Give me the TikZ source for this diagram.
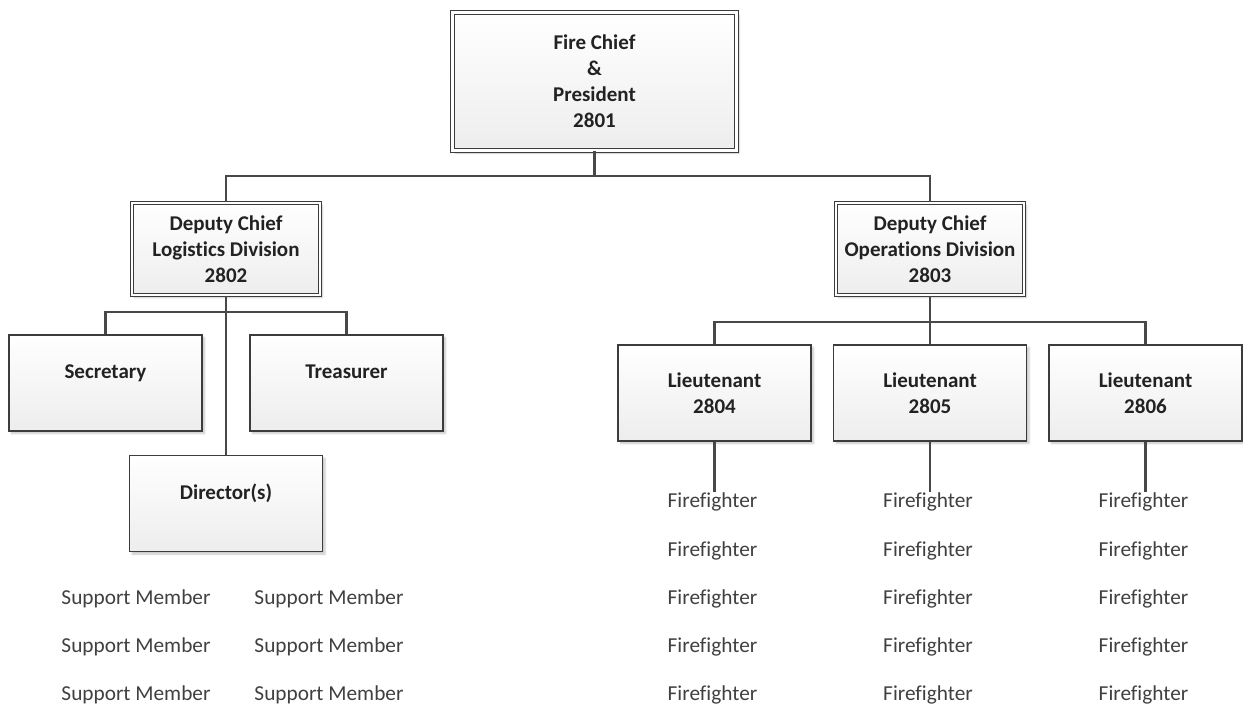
\documentclass[tikz,border=0pt]{standalone}
\usepackage{fontspec}
\setmainfont{Carlito}[Ligatures=NoCommon]
\usetikzlibrary{shadows.blur}
\definecolor{edge}{HTML}{3C3C3C}
\definecolor{wire}{HTML}{484848}
\definecolor{ink}{HTML}{222222}
\definecolor{soft}{HTML}{404040}
\tikzset{
  x=1pt, y=-1pt,
  box/.style={draw=edge, line width=1.4pt, top color=white, bottom color=black!7,
    minimum width=193pt, minimum height=96pt, inner sep=0pt,
    font=\fontsize{21}{26}\selectfont\bfseries, text=ink, align=center,
    blur shadow={shadow xshift=2.5pt, shadow yshift=-2.5pt, shadow opacity=22, shadow blur steps=5}},
  dbox/.style={box, double=white, double distance=2.4pt, line width=1.1pt},
  onebox/.style={box, text height=14pt, text depth=23pt},
  plain/.style={font=\fontsize{21.3}{24}\selectfont, text=soft, inner sep=1pt,
    text height=14pt, text depth=5pt, anchor=base},
  wire/.style={draw=wire, line width=2.2pt}
}
\begin{document}
\begin{tikzpicture}
\useasboundingbox (0,0) rectangle (1243,704);
% boxes
\node[dbox, minimum width=284pt, minimum height=138pt] (chief) at (594.5,81.5) {Fire Chief\\\&\\President\\2801};
\node[dbox, minimum width=188pt, minimum height=92pt] (log) at (226,249) {Deputy Chief\\Logistics Division\\2802};
\node[dbox, minimum width=188pt, minimum height=92pt] (ops) at (930,249) {Deputy Chief\\Operations Division\\2803};
\node[onebox] (sec) at (105.5,383) {Secretary};
\node[onebox] (tre) at (346.5,383) {Treasurer};
\node[onebox] (dir) at (226,503.5) {Director(s)};
\node[box] (lt1) at (714.5,393) {Lieutenant\\2804};
\node[box] (lt2) at (930,393) {Lieutenant\\2805};
\node[box] (lt3) at (1145.5,393) {Lieutenant\\2806};
% bus coordinates
\coordinate (bus1) at (594.5,176);
\coordinate (bus2) at (226,312);
\coordinate (bus3) at (930,322);
% firefighters
\foreach \c/\x in {1/714.5,2/930,3/1145.5}{
  \foreach \r/\y in {1/507,2/556,3/604,4/652,5/700}{
    \node[plain] (ff\c\r) at (\x-2,\y) {Firefighter};
  }
}
% support members
\foreach \c/\x in {1/136,2/329}{
  \foreach \r/\y in {1/604,2/652,3/700}{
    \node[plain] (sm\c\r) at (\x,\y) {Support Member};
  }
}
% connectors
\draw[wire] (chief.south) -- (bus1);
\draw[wire] (log.north) |- (bus1) -| (ops.north);
\draw[wire] (log.south) -- (dir.north);
\draw[wire] (sec.north) |- (bus2) -| (tre.north);
\draw[wire] (ops.south) -- (lt2.north);
\draw[wire] (lt1.north) |- (bus3) -| (lt3.north);
\draw[wire] (lt1.south) -- (lt1.south |- ff11.north);
\draw[wire] (lt2.south) -- (lt2.south |- ff21.north);
\draw[wire] (lt3.south) -- (lt3.south |- ff31.north);
\end{tikzpicture}
\end{document}
